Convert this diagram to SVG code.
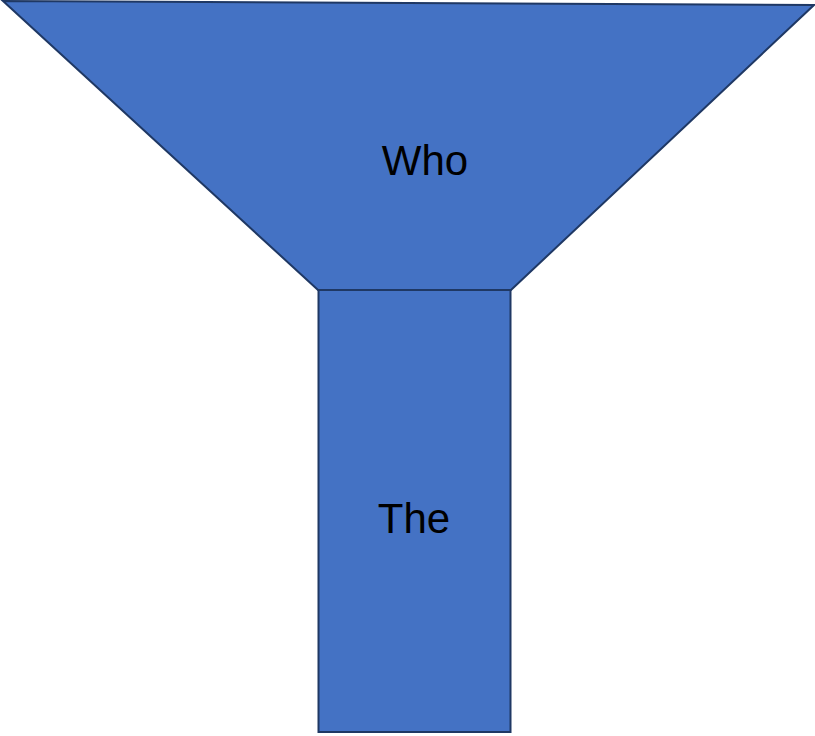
<svg xmlns="http://www.w3.org/2000/svg" width="815" height="736" viewBox="0 0 815 736">
<style>
.shape{fill:#4472C4;stroke:#1F3864;stroke-width:2;stroke-linejoin:miter}
.lbl{font-family:"Liberation Sans",Arial,sans-serif;font-size:42px;fill:#000;text-anchor:middle}
</style>
<rect width="815" height="736" fill="#fff"/>
<g id="funnel-top">
<polygon class="shape" points="3,1 814,5 511,290 318,290"/>
<text class="lbl" x="425" y="175">Who</text>
</g>
<g id="funnel-stem">
<rect class="shape" x="318.5" y="290" width="192" height="442"/>
<text class="lbl" x="414" y="533">The</text>
</g>
<g id="connectors"></g>
</svg>
